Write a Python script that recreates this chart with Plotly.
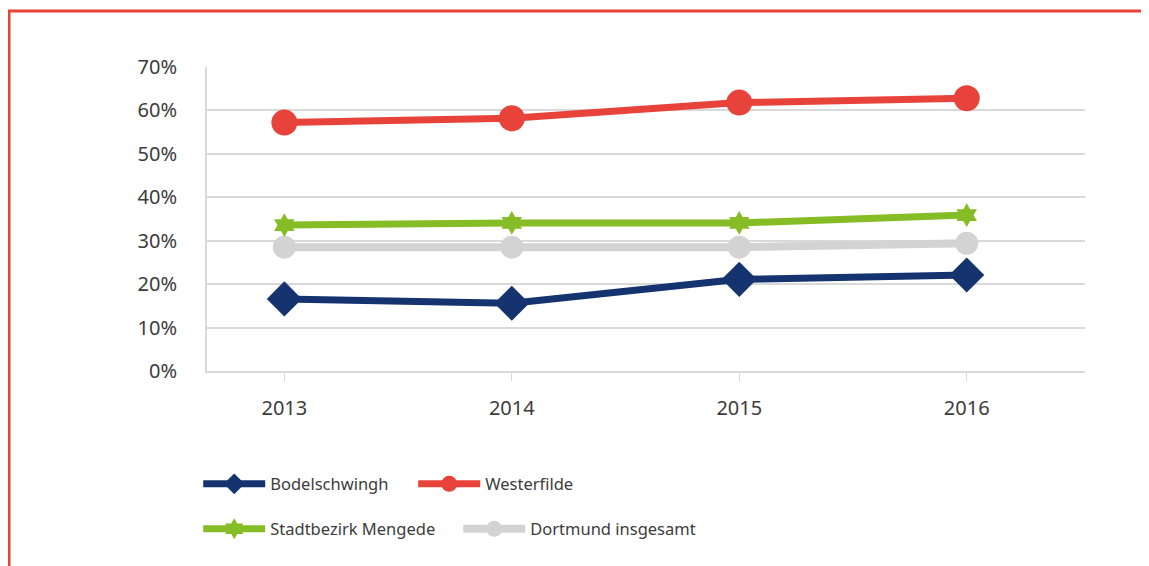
import plotly.graph_objects as go

years = ["2013", "2014", "2015", "2016"]
bodelschwingh = [16.6, 15.6, 21.1, 22.1]
westerfilde = [57.2, 58.2, 61.8, 62.8]
mengede = [33.6, 34.1, 34.1, 35.9]
dortmund = [28.5, 28.5, 28.5, 29.4]

series_names = ["Bodelschwingh", "Westerfilde", "Stadtbezirk Mengede", "Dortmund insgesamt"]
y_ticks = [0, 10, 20, 30, 40, 50, 60, 70]

FONT = "Noto Sans"
TEXT = "#3c3c3c"
GRID = "#d9d9d9"

styles = [
    dict(color="#14336f", symbol="diamond", size=27, width=7, legend="legend"),
    dict(color="#e8433b", symbol="circle", size=26, width=7, legend="legend"),
    dict(color="#86bc25", symbol="hexagram", size=18, width=7, legend="legend2"),
    dict(color="#d3d3d3", symbol="circle", size=23, width=8, legend="legend2"),
]

fig = go.Figure()

# grey series first so it sits behind the others
order = [3, 0, 1, 2]
values = [bodelschwingh, westerfilde, mengede, dortmund]
for i in order:
    s = styles[i]
    fig.add_trace(
        go.Scatter(
            x=years,
            y=values[i],
            mode="lines+markers",
            name=series_names[i],
            line=dict(color=s["color"], width=s["width"]),
            marker=dict(color=s["color"], symbol=s["symbol"], size=s["size"]),
            legend=s["legend"],
            legendrank=i,
        )
    )

legend_common = dict(
    orientation="h",
    xanchor="left",
    yanchor="middle",
    x=-0.01,
    font=dict(family=FONT, size=16.5, color=TEXT),
    itemwidth=62,
    traceorder="normal",
    bgcolor="rgba(0,0,0,0)",
)

# the page body has an 8px margin, so the figure is sized to fit inside it
fig.update_layout(
    width=1141,
    height=558,
    paper_bgcolor="white",
    plot_bgcolor="white",
    margin=dict(l=199, r=64, t=59, b=195),
    font=dict(family=FONT, size=17, color=TEXT),
    legend=dict(y=-0.372, entrywidth=138, **legend_common),
    legend2=dict(y=-0.52, entrywidth=183, **legend_common),
    showlegend=True,
)

fig.update_xaxes(
    type="category",
    range=[-0.34, 3.52],
    showgrid=False,
    showline=True,
    linecolor=GRID,
    linewidth=2,
    ticks="outside",
    ticklen=8,
    tickwidth=1,
    tickcolor=GRID,
    ticklabelstandoff=10,
    tickfont=dict(family=FONT, size=20, color=TEXT),
    zeroline=False,
)

fig.update_yaxes(
    range=[0, 70],
    tickvals=y_ticks,
    ticktext=[f"{v}%" for v in y_ticks],
    showgrid=True,
    gridcolor=GRID,
    gridwidth=2,
    showline=True,
    linecolor=GRID,
    linewidth=2,
    zeroline=False,
    ticks="",
    ticklabelstandoff=24,
    tickfont=dict(family=FONT, size=20, color=TEXT),
)

# red frame around the figure (left and top edges)
fig.add_shape(
    type="path",
    xref="paper",
    yref="paper",
    path="M -0.2255,-0.66 L -0.2255,1.1842 L 1.08,1.1842",
    line=dict(color="#e8433b", width=3),
)

fig.write_html("out.html")
